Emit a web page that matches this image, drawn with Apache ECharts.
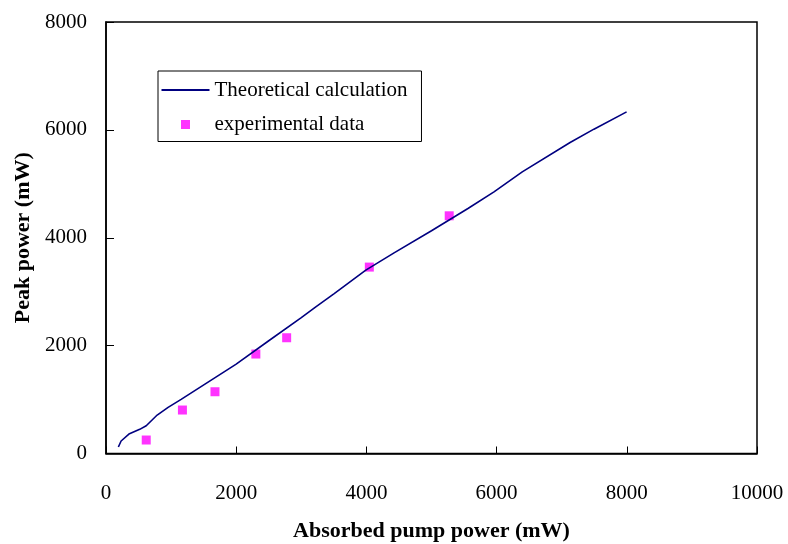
<!DOCTYPE html>
<html>
<head>
<meta charset="utf-8">
<script src="https://cdn.jsdelivr.net/npm/echarts@6/dist/echarts.min.js"></script>
<style>html,body{margin:0;padding:0;background:#fff;}#c{width:788px;height:544px;}</style>
</head>
<body>
<div id="c"></div>
<script>
// Theoretical calculation curve: [absorbed pump power (mW), peak power (mW)]
var theoryX = [190, 232, 352, 518, 618, 786, 954, 1154, 1994, 2500, 3000, 3223, 3500, 3991, 4425, 5000, 5560, 5960, 6394, 7129, 7495, 7997];
var theoryY = [120, 232, 361, 448, 515, 713, 856, 1004, 1653, 2090, 2520, 2720, 2960, 3400, 3720, 4130, 4543, 4851, 5221, 5766, 6013, 6333];
// Experimental data
var expX = [618, 1174, 1674, 2302, 2775, 4045, 5272];
var expY = [250, 806, 1145, 1844, 2146, 3456, 4407];
var xTicks = [0, 2000, 4000, 6000, 8000, 10000];
var yTicks = [0, 2000, 4000, 6000, 8000];

function pairs(xs, ys) { return xs.map(function (x, i) { return [x, ys[i]]; }); }
function plain(v) { return String(v); }

var serif = "'Liberation Serif', 'Times New Roman', serif";
var chart = echarts.init(document.getElementById('c'), null, { renderer: 'canvas' });
chart.setOption({
  animation: false,
  backgroundColor: '#ffffff',
  grid: { left: 106, right: 31, top: 22, bottom: 90.5, show: true, borderColor: '#000', borderWidth: 1.5, backgroundColor: 'transparent', containLabel: false, outerBoundsMode: 'none' },
  legend: {
    orient: 'vertical',
    left: 158, top: 71,
    padding: [7, 14, 5, 3.5],
    borderColor: '#000', borderWidth: 1,
    itemWidth: 48, itemHeight: 9, itemGap: 10.5,
    symbolKeepAspect: true,
    textStyle: { fontFamily: serif, fontSize: 21, color: '#000', lineHeight: 24 },
    data: [
      { name: 'Theoretical calculation', icon: 'path://M0,0L42,0L42,1.6L0,1.6Z' },
      { name: 'experimental data', icon: 'path://M0,0L9,0L9,9L0,9Z' }
    ]
  },
  xAxis: {
    type: 'value', min: xTicks[0], max: xTicks[xTicks.length - 1], interval: 2000,
    name: 'Absorbed pump power (mW)', nameLocation: 'middle', nameGap: 67,
    nameTextStyle: { fontFamily: serif, fontSize: 22, fontWeight: 'bold', color: '#000' },
    axisLine: { show: true, lineStyle: { color: '#000', width: 1.5 } },
    axisTick: { show: true, inside: true, length: 7, lineStyle: { color: '#000', width: 1 } },
    axisLabel: { fontFamily: serif, fontSize: 21, color: '#000', margin: 29, formatter: plain },
    splitLine: { show: false }
  },
  yAxis: {
    type: 'value', min: yTicks[0], max: yTicks[yTicks.length - 1], interval: 2000,
    name: 'Peak power (mW)', nameLocation: 'middle', nameGap: 67,
    nameTextStyle: { fontFamily: serif, fontSize: 22, fontWeight: 'bold', color: '#000' },
    axisLine: { show: true, lineStyle: { color: '#000', width: 1.5 } },
    axisTick: { show: true, inside: true, length: 8, lineStyle: { color: '#000', width: 1 } },
    axisLabel: { fontFamily: serif, fontSize: 21, color: '#000', margin: 19, formatter: plain },
    splitLine: { show: false }
  },
  series: [
    {
      name: 'Theoretical calculation', type: 'line', data: pairs(theoryX, theoryY),
      showSymbol: false, symbol: 'none', smooth: false,
      lineStyle: { color: '#000080', width: 1.6 }, itemStyle: { color: '#000080' }
    },
    {
      name: 'experimental data', type: 'scatter', data: pairs(expX, expY),
      symbol: 'rect', symbolSize: 9, itemStyle: { color: '#FF00FF' }
    }
  ]
});
</script>
</body>
</html>
